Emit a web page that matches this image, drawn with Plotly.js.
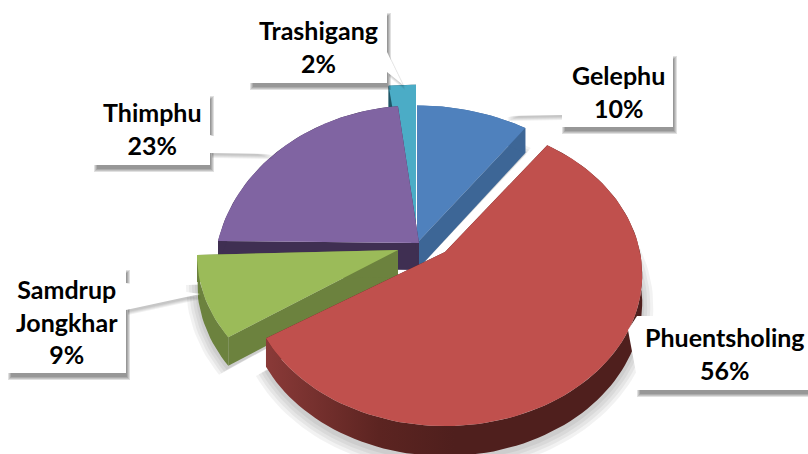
<!DOCTYPE html>
<html><head><meta charset="utf-8">
<script src="https://cdn.plot.ly/plotly-3.0.1.min.js"></script>
<style>html,body{margin:0;padding:0;background:#fff}#c{width:808px;height:454px}</style>
</head><body><div id="c"></div>
<script>
// ---- chart data ----
var categories = ['Gelephu','Phuentsholing','Samdrup<br>Jongkhar','Thimphu','Trashigang'];
var shares = [10,56,9,23,2];

// ---- styles ----
var topColors  = ['#4f81bd','#c0504d','#9bbb59','#8064a2','#4bacc6'];
var wallColors = ['#3d6696','#4f1f1d','#6c823e','#3f2f52','#1f5566'];
// 3D projection of each slice (exploded centre, radii, perspective, shear)
var proj = [
 {cx:417,cy:243,rx:214,ry:165,k:.2,s:0},
 {cx:445,cy:252,rx:195,ry:148,k:.15,s:0},
 {cx:398,cy:250,rx:201,ry:155,k:0,s:-.025},
 {cx:419,cy:243,rx:201,ry:165,k:.2,s:.01},
 {cx:416,cy:243,rx:262,ry:190,k:.2,s:0}
];
var drawOrder = [4,0,3,2,1];
// callout boxes: x0,y0,x1,y1 then wedge triangle
var boxes = [
 {b:[562,53,673,127],w:[[562,92],[562,115],[505,116]],t:[618,91]},
 {b:[637,316,808,390],w:[[637,316],[637,378],[628,330]],t:[725,353]},
 {b:[8,267,126,373],w:[[126,283],[126,310],[200,294]],t:[67,321]},
 {b:[94,93,210,165],w:[[210,135],[210,153],[272,154]],t:[152,128]},
 {b:[250,10,387,83],w:[[387,52],[387,72],[403,85]],t:[318,46]}
];
var THICK = 27;

function pt(p,deg,extra){
  var a=deg*Math.PI/180, X=Math.sin(a), Y=Math.cos(a), w=1+p.k*Y;
  var x=p.cx+(p.rx+(extra||0))*X/w;
  var y=p.cy-(p.ry+(extra||0))*Y/w;
  return [x, y+p.s*(x-p.cx)];
}
function thick(deg){ return THICK/(1+.1*Math.cos(deg*Math.PI/180)); }
function arc(p,a0,a1,off,extra){
  var r=[],n=Math.max(6,Math.ceil((a1-a0)/2));
  for(var i=0;i<=n;i++){var d=a0+(a1-a0)*i/n,q=pt(p,d,extra);r.push([q[0],q[1]+(off?thick(d)*off:0)]);}
  return r;
}
function poly(pts,color,name,extra){
  var t={type:'scatter',mode:'lines',name:name,x:pts.map(function(q){return q[0]}),y:pts.map(function(q){return q[1]}),
    fill:'toself',fillcolor:color,line:{width:0,color:color},hoverinfo:'skip',showlegend:false};
  for(var k in extra)t[k]=extra[k];
  return t;
}
var total=shares.reduce(function(a,b){return a+b},0), starts=[], acc=0;
shares.forEach(function(v){starts.push(acc/total*360);acc+=v;});

var traces=[];
// soft drop shadows
[1,2,0].forEach(function(i){
  var a0=starts[i],a1=a0+shares[i]/total*360,p=proj[i];
  [11,8,5,2].forEach(function(e){
    var o=arc(p,a0,a1,1.1,e);
    var c={x:p.cx,y:p.cy+THICK};
    traces.push(poly([[c.x,c.y]].concat(o),'rgba(0,0,0,.05)',categories[i]+' shadow'));
  });
});
drawOrder.forEach(function(i){
  var a0=starts[i],a1=a0+shares[i]/total*360,p=proj[i],nm=categories[i].replace('<br>',' ');
  var c0=[p.cx,p.cy],c1=[p.cx,p.cy+THICK];
  var ws=pt(p,a0),we=pt(p,a1);
  var wall=wallColors[i],extra={};
  if(i===1) extra={fillgradient:{type:'horizontal',colorscale:[[0,'#8a3a38'],[.3,'#5c2421'],[.5,'#4f1f1d'],[1,'#4f1f1d']]}};
  // radial walls
  traces.push(poly([c0,ws,[ws[0],ws[1]+thick(a0)],c1],wall,nm+' wall'));
  traces.push(poly([c0,we,[we[0],we[1]+thick(a1)],c1],wall,nm+' wall'));
  // outer wall
  traces.push(poly(arc(p,a0,a1,0).concat(arc(p,a0,a1,1).reverse()),wall,nm+' rim',extra));
  // top face
  traces.push(poly([c0].concat(arc(p,a0,a1,0)),topColors[i],nm));
});

var shapes=[],annotations=[];
function rect(b,dx,dy,e,col){return {type:'rect',xref:'x',yref:'y',x0:b[0]+dx-e,x1:b[2]+dx+e,y0:b[1]+dy-e,y1:b[3]+dy+e,fillcolor:col,line:{width:0}};}
function tri(w,dx,dy,col){return {type:'path',xref:'x',yref:'y',path:'M'+w.map(function(q){return (q[0]+dx)+','+(q[1]+dy)}).join('L')+'Z',fillcolor:col,line:{width:0}};}
boxes.forEach(function(o,i){
  [2,1,0,-1].forEach(function(e){
    shapes.push(tri(o.w,2,3+e,'rgba(0,0,0,.06)'));
    shapes.push(rect(o.b,2,5,e,'rgba(0,0,0,.12)'));
  });
});
boxes.forEach(function(o,i){
  shapes.push(tri(o.w,0,0,'#ffffff'));
  shapes.push(rect(o.b,0,0,0,'#ffffff'));
  annotations.push({xref:'x',yref:'y',x:o.t[0],y:o.t[1],showarrow:false,xanchor:'center',yanchor:'middle',align:'center',
    text:categories[i]+'<br>'+shares[i]+'%',font:{family:'Lato, "Open Sans", sans-serif',size:25,color:'#000',weight:700}});
});

Plotly.newPlot('c',traces,{
  width:808,height:454,margin:{l:0,r:0,t:0,b:0},paper_bgcolor:'#fff',plot_bgcolor:'#fff',showlegend:false,hovermode:false,
  xaxis:{range:[0,808],visible:false,fixedrange:true},
  yaxis:{range:[454,0],visible:false,fixedrange:true},
  shapes:shapes,annotations:annotations
},{displayModeBar:false,staticPlot:true});
</script></body></html>
